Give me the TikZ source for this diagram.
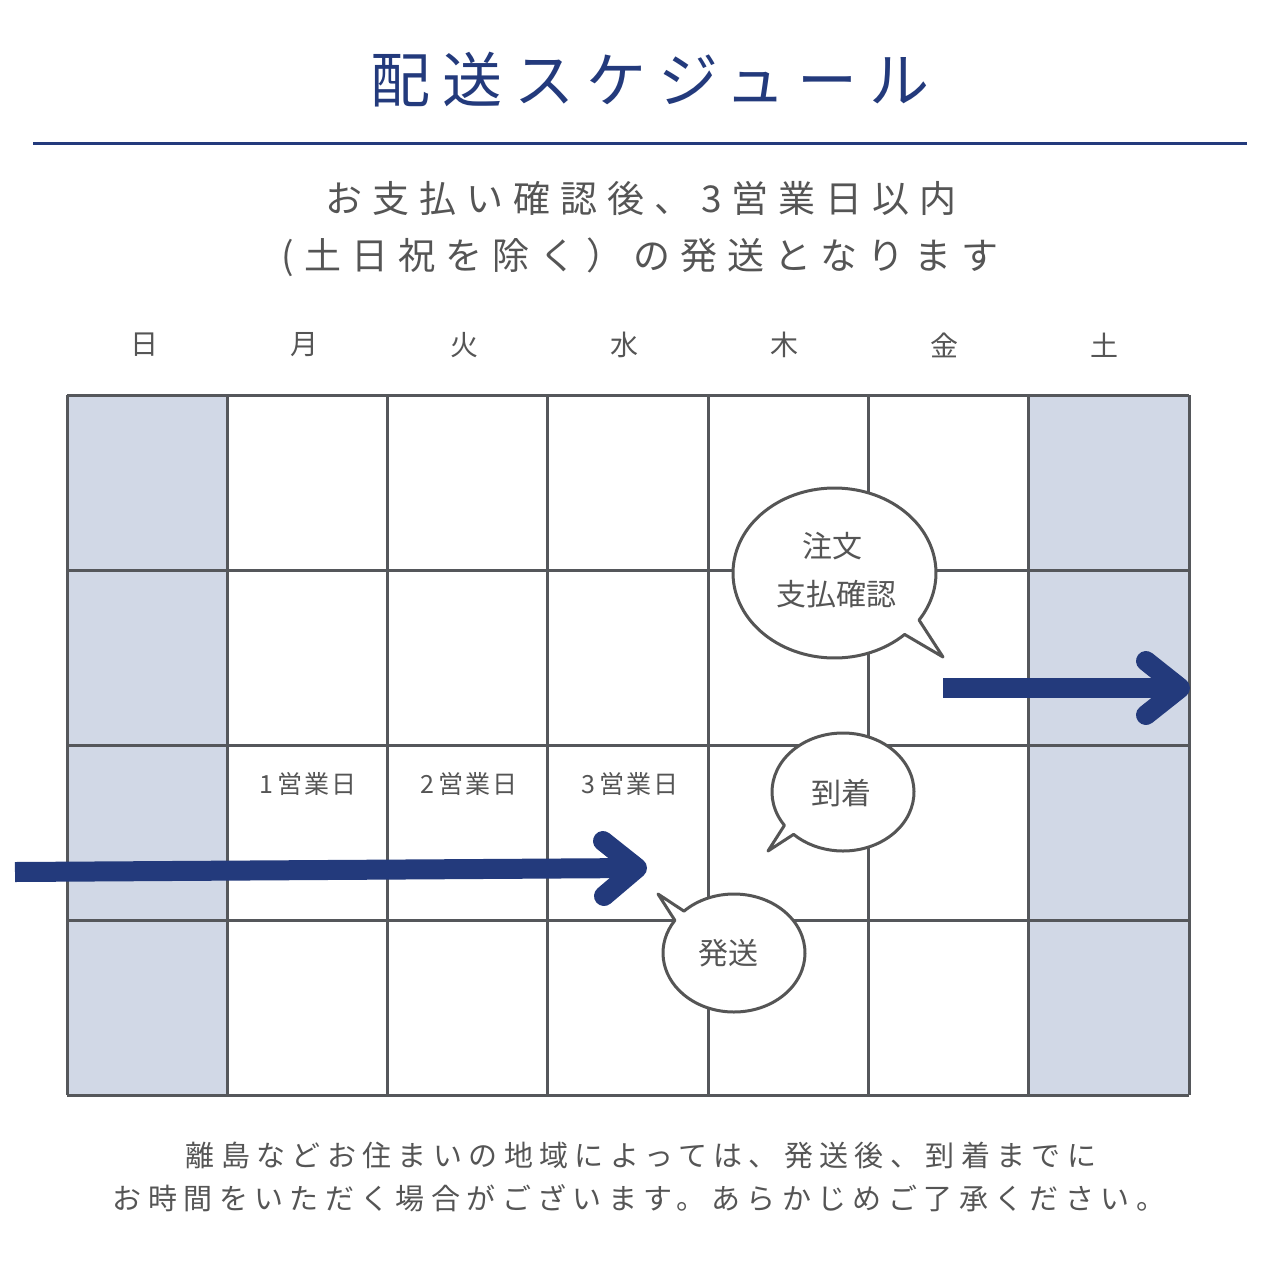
\documentclass[tikz,border=0pt]{standalone}
\usepackage{fontspec}
\setmainfont{Noto Sans CJK JP}
\definecolor{navy}{HTML}{233A7C}
\definecolor{txtgray}{HTML}{555555}
\definecolor{gridgray}{HTML}{55575B}
\definecolor{weekendblue}{HTML}{D1D8E6}
\tikzset{
  gridline/.style={draw=gridgray, line width=3pt},
  bubble/.style={draw=txtgray, line width=3pt, fill=white, line join=round},
  shaft/.style={draw=navy, line width=20pt},
  chevron/.style={draw=navy, line width=20pt, line cap=round, line join=round},
  daylabel/.style={text=txtgray, font=\fontsize{28}{32}\selectfont},
  worklabel/.style={text=txtgray, font=\fontsize{25}{30}\selectfont\addfontfeature{LetterSpace=9}},
  bubbletext/.style={text=txtgray, font=\fontsize{30}{40}\selectfont, align=center},
}
\begin{document}
\begin{tikzpicture}[x=1pt,y=-1pt]
\useasboundingbox[fill=white] (0,0) rectangle (1280,1280);
% title
\node[text=navy, font=\fontsize{60}{70}\selectfont\addfontfeature{LetterSpace=20}] (title) at (650,80) {配送スケジュール};
\coordinate (rl) at (33,143);
\coordinate (rr) at (1247,143);
\draw[navy, line width=3pt] (rl) -- (rr);
% subtitle
\node[text=txtgray, font=\fontsize{37}{45}\selectfont\addfontfeature{LetterSpace=27}] (sub1) at (641,198) {お支払い確認後、3営業日以内};
\node[text=txtgray, font=\fontsize{37}{45}\selectfont\addfontfeature{LetterSpace=27}] (sub2) at (640,257) {(土日祝を除く）の発送となります};
% weekdays
\node[daylabel] (d0) at (144,345) {日};
\node[daylabel] (d1) at (304,345) {月};
\node[daylabel] (d2) at (464,345) {火};
\node[daylabel] (d3) at (624,345) {水};
\node[daylabel] (d4) at (784,345) {木};
\node[daylabel] (d5) at (944,345) {金};
\node[daylabel] (d6) at (1104,345) {土};
% weekend columns
\fill[weekendblue] (67,395) rectangle (227,1095);
\fill[weekendblue] (1028,395) rectangle (1189,1095);
% grid
\foreach \x in {67,227,387,547,708,868,1028,1189} {
  \draw[gridline] (\x,395) -- (\x,1095);
}
\foreach \y in {395,570,745,920,1095} {
  \draw[gridline] (67,\y) -- (1189,\y);
}
% business day labels
\node[worklabel] (w1) at (308,784) {1\hspace{4pt}営業日};
\node[worklabel] (w2) at (469,784) {2\hspace{4pt}営業日};
\node[worklabel] (w3) at (630,784) {3\hspace{4pt}営業日};
% arrows
\coordinate (a1s) at (943,688);
\coordinate (a1t) at (1180,688);
\coordinate (a1u) at (1146,661);
\coordinate (a1d) at (1146,715);
\draw[shaft] (a1s) -- (a1t);
\draw[chevron] (a1u) -- (a1t) -- (a1d);
\coordinate (a2s) at (15,872);
\coordinate (a2t) at (637,868);
\coordinate (a2u) at (603,841);
\coordinate (a2d) at (604,896);
\draw[shaft] (a2s) -- (a2t);
\draw[chevron] (a2u) -- (a2t) -- (a2d);
% bubble 1
\draw[bubble] ({834.5+101.5*cos(46.3)},{573+85*sin(46.3)})
  arc[start angle=46.3, end angle=393.6, x radius=101.5, y radius=85]
  -- (943,657) -- cycle;
\node[bubbletext] (b1a) at (832,546) {注文};
\node[bubbletext] (b1b) at (836,594) {支払確認};
% bubble 2
\draw[bubble] ({843+71*cos(145.6)},{792+59*sin(145.6)})
  arc[start angle=145.6, end angle=494.1, x radius=71, y radius=59]
  -- (768,851) -- cycle;
\node[bubbletext] (b2) at (841,793) {到着};
% bubble 3
\draw[bubble] ({734+71*cos(225.2)},{953+59*sin(225.2)})
  arc[start angle=225.2, end angle=573.6, x radius=71, y radius=59]
  -- (658,894) -- cycle;
\node[bubbletext] (b3) at (728,953) {発送};
% footer
\node[text=txtgray, font=\fontsize{29}{36}\selectfont\addfontfeature{LetterSpace=22}] (f1) at (641,1155) {離島などお住まいの地域によっては、発送後、到着までに};
\node[text=txtgray, font=\fontsize{29}{36}\selectfont\addfontfeature{LetterSpace=22}] (f2) at (639,1198) {お時間をいただく場合がございます。あらかじめご了承ください。};
\end{tikzpicture}
\end{document}
